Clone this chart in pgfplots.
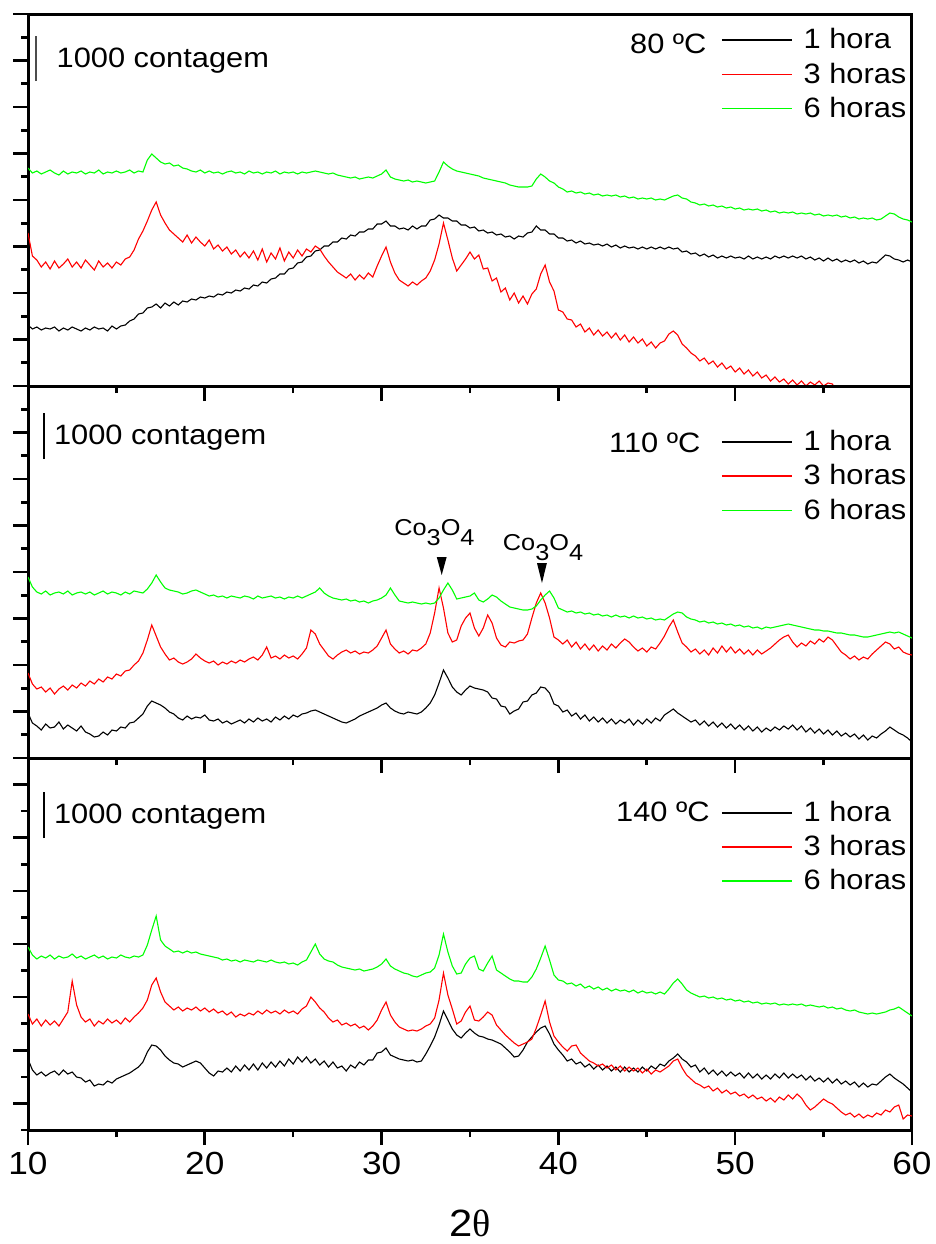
\documentclass[border=0pt]{standalone}
\usepackage{fontspec}
\setmainfont{Liberation Sans}[FakeStretch=1.1]
\newfontfamily\greekfont{Liberation Serif}
\usepackage{pgfplots}
\usepackage{pgfplotstable}
\pgfplotsset{compat=1.18}

% panel A: 80 C (y in px above panel bottom)
\pgfplotstableread{
x a1 a3 a6
10.00 61 153 218
10.25 57 130 213
10.50 59 126 215
10.75 56 119 212
11.00 58 124 214
11.25 57 117 216
11.50 59 125 213
11.75 55 118 211
12.00 58 122 215
12.25 56 127 212
12.50 59 119 214
12.75 57 124 213
13.00 55 118 215
13.25 58 126 212
13.50 56 121 214
13.75 59 116 213
14.00 57 125 216
14.25 58 119 212
14.50 55 123 214
14.75 60 118 213
15.00 57 124 215
15.25 60 121 213
15.50 61 127 214
15.75 65 129 216
16.00 67 136 213
16.25 72 147 215
16.50 73 155 214
16.75 78 165 226
17.00 79 176 232
17.25 82 184 228
17.50 78 171 224
17.75 83 163 222
18.00 80 156 223
18.25 84 152 220
18.50 81 148 221
18.75 85 144 218
19.00 84 151 217
19.25 87 143 215
19.50 86 149 214
19.75 89 144 216
20.00 88 140 213
20.25 90 146 215
20.50 89 137 213
20.75 92 141 214
21.00 91 135 212
21.25 94 139 214
21.50 93 132 215
21.75 96 136 213
22.00 95 129 214
22.25 98 134 212
22.50 97 128 215
22.75 101 135 213
23.00 100 126 214
23.25 104 137 212
23.50 103 124 214
23.75 107 133 213
24.00 108 127 215
24.25 112 138 212
24.50 112 125 214
24.75 117 134 213
25.00 118 128 214
25.25 123 136 212
25.50 124 130 214
25.75 129 137 213
26.00 130 134 214
26.25 135 140 215
26.50 136 137 214
26.75 140 130 213
27.00 140 124 212
27.25 144 119 213
27.50 144 114 211
27.75 148 111 210
28.00 147 108 209
28.25 151 112 208
28.50 150 106 209
28.75 154 111 207
29.00 154 107 208
29.25 157 113 209
29.50 157 109 208
29.75 162 120 210
30.00 162 130 212
30.25 165 139 216
30.50 160 124 209
30.75 160 113 207
31.00 157 106 206
31.25 158 103 205
31.50 156 100 206
31.75 160 104 204
32.00 157 101 205
32.25 160 105 204
32.50 160 108 203
32.75 166 115 204
33.00 167 126 205
33.25 171 142 214
33.50 168 163 224
33.75 168 146 220
34.00 165 128 217
34.25 165 115 215
34.50 161 121 214
34.75 161 127 213
35.00 158 134 212
35.25 159 127 211
35.50 155 131 210
35.75 156 117 208
36.00 153 118 207
36.25 154 105 206
36.50 151 108 205
36.75 152 94 204
37.00 149 98 203
37.25 150 86 201
37.50 147 93 200
37.75 150 83 199
38.00 149 90 199
38.25 153 82 199
38.50 154 92 200
38.75 160 97 207
39.00 156 112 212
39.25 156 121 209
39.50 152 104 205
39.75 152 95 203
40.00 148 76 199
40.25 148 74 197
40.50 145 67 194
40.75 146 66 195
41.00 143 59 193
41.25 145 62 194
41.50 142 54 192
41.75 143 58 193
42.00 141 51 191
42.25 142 56 192
42.50 140 50 190
42.75 142 54 191
43.00 139 48 190
43.25 141 53 191
43.50 138 46 189
43.75 140 51 190
44.00 138 44 188
44.25 139 49 189
44.50 137 43 187
44.75 139 47 188
45.00 137 40 187
45.25 139 44 188
45.50 137 38 186
45.75 139 43 187
46.00 137 45 186
46.25 139 52 188
46.50 137 55 190
46.75 138 51 191
47.00 134 42 188
47.25 135 38 187
47.50 132 33 184
47.75 133 30 183
48.00 130 25 181
48.25 132 28 182
48.50 129 22 180
48.75 131 25 181
49.00 128 19 179
49.25 130 23 180
49.50 128 17 178
49.75 130 20 179
50.00 128 14 177
50.25 129 18 178
50.50 127 12 176
50.75 130 16 177
51.00 127 10 176
51.25 129 14 177
51.50 127 8 175
51.75 129 11 176
52.00 127 5 174
52.25 130 9 175
52.50 128 4 173
52.75 130 7 174
53.00 128 2 173
53.25 130 6 174
53.50 128 1 172
53.75 130 5 173
54.00 127 0 172
54.25 129 4 173
54.50 126 1 171
54.75 128 5 172
55.00 125 0 170
55.25 128 3 171
55.50 125 2 170
55.75 127 -6 171
56.00 124 -8 169
56.25 126 -11 170
56.50 124 -10 168
56.75 126 -13 169
57.00 123 -14 167
57.25 125 -15 168
57.50 122 -17 167
57.75 124 -18 168
58.00 123 -19 166
58.25 127 -20 167
58.50 131 -21 170
58.75 130 -22 173
59.00 127 -23 172
59.25 126 -24 169
59.50 124 -25 167
59.75 126 -26 166
60.00 124 -27 164
}\tblA

% panel B: 110 C
\pgfplotstableread{
x b1 b3 b6
10.00 45 85 181
10.25 35 74 171
10.50 32 69 166
10.75 28 71 164
11.00 34 66 167
11.25 30 70 163
11.50 31 64 165
11.75 36 69 166
12.00 29 72 164
12.25 33 68 167
12.50 30 73 163
12.75 27 70 165
13.00 32 75 166
13.25 26 72 164
13.50 24 77 166
13.75 21 74 163
14.00 22 79 165
14.25 26 76 167
14.50 23 81 164
14.75 28 79 166
15.00 27 84 165
15.25 31 82 163
15.50 30 87 166
15.75 35 88 164
16.00 36 93 167
16.25 40 97 166
16.50 44 105 165
16.75 52 118 169
17.00 57 133 175
17.25 55 122 183
17.50 53 111 176
17.75 50 104 170
18.00 46 98 168
18.25 44 100 167
18.50 40 96 166
18.75 38 94 164
19.00 42 96 165
19.25 39 99 167
19.50 41 104 168
19.75 40 100 166
20.00 43 97 164
20.25 38 95 162
20.50 37 97 163
20.75 39 93 161
21.00 35 96 162
21.25 37 94 160
21.50 34 97 162
21.75 36 95 161
22.00 38 98 160
22.25 35 96 162
22.50 39 99 161
22.75 36 101 159
23.00 40 98 162
23.25 37 103 160
23.50 39 111 161
23.75 36 100 162
24.00 41 102 160
24.25 38 99 161
24.50 42 103 159
24.75 39 100 161
25.00 43 102 160
25.25 41 99 162
25.50 44 104 160
25.75 45 110 162
26.00 47 128 164
26.25 48 124 166
26.50 46 114 170
26.75 44 108 165
27.00 42 102 162
27.25 40 99 160
27.50 38 103 159
27.75 36 106 158
28.00 35 108 159
28.25 37 105 157
28.50 39 107 158
28.75 42 104 156
29.00 44 106 157
29.25 46 105 155
29.50 48 108 157
29.75 50 112 158
30.00 53 120 160
30.25 55 128 163
30.50 50 114 170
30.75 47 109 163
31.00 45 105 157
31.25 44 107 156
31.50 46 104 155
31.75 45 108 156
32.00 44 107 155
32.25 46 110 154
32.50 50 114 155
32.75 55 125 154
33.00 63 145 155
33.25 75 170 160
33.50 88 150 168
33.75 80 125 175
34.00 71 116 168
34.25 66 118 159
34.50 63 132 160
34.75 68 140 161
35.00 72 145 162
35.25 70 130 165
35.50 69 122 158
35.75 68 130 156
36.00 66 143 159
36.25 60 135 163
36.50 59 120 161
36.75 52 113 157
37.00 51 111 154
37.25 44 116 151
37.50 47 115 150
37.75 49 117 149
38.00 56 118 148
38.25 57 124 148
38.50 63 140 149
38.75 65 155 152
39.00 71 165 158
39.25 70 155 163
39.50 65 140 167
39.75 54 121 160
40.00 52 118 150
40.25 46 114 148
40.50 48 118 146
40.75 42 111 147
41.00 45 116 145
41.25 39 109 146
41.50 43 114 144
41.75 37 108 145
42.00 41 113 143
42.25 36 107 144
42.50 40 112 142
42.75 35 108 143
43.00 39 114 141
43.25 34 110 143
43.50 38 115 141
43.75 35 119 142
44.00 39 116 140
44.25 33 111 142
44.50 38 107 140
44.75 34 110 141
45.00 39 106 139
45.25 35 111 140
45.50 40 109 138
45.75 37 115 139
46.00 43 122 138
46.25 46 131 141
46.50 49 138 144
46.75 45 126 146
47.00 42 115 145
47.25 39 111 141
47.50 36 106 139
47.75 38 109 138
48.00 33 104 136
48.25 37 108 137
48.50 32 103 135
48.75 36 110 136
49.00 31 105 134
49.25 35 112 135
49.50 30 106 133
49.75 34 111 134
50.00 29 105 132
50.25 33 109 133
50.50 28 104 131
50.75 32 108 132
51.00 27 103 130
51.25 31 108 131
51.50 26 104 129
51.75 30 107 131
52.00 27 110 130
52.25 31 114 131
52.50 28 118 132
52.75 32 121 133
53.00 29 123 134
53.25 33 116 133
53.50 28 111 132
53.75 32 115 131
54.00 26 112 130
54.25 30 117 129
54.50 25 114 128
54.75 29 119 128
55.00 24 116 127
55.25 28 121 127
55.50 23 118 126
55.75 27 112 125
56.00 22 106 125
56.25 25 103 124
56.50 21 99 123
56.75 24 102 123
57.00 19 98 122
57.25 23 101 121
57.50 18 99 121
57.75 22 104 122
58.00 20 108 123
58.25 24 112 124
58.50 27 116 125
58.75 31 114 126
59.00 28 109 125
59.25 25 111 126
59.50 23 106 124
59.75 20 104 122
60.00 16 103 120
}\tblB

% panel C: 140 C
\pgfplotstableread{
x c1 c3 c6
10.00 71 116 183
10.25 60 106 175
10.50 55 111 171
10.75 58 104 174
11.00 54 110 172
11.25 57 105 175
11.50 59 109 171
11.75 55 104 174
12.00 60 111 172
12.25 56 118 173
12.50 58 149 176
12.75 53 125 172
13.00 52 113 174
13.25 48 108 171
13.50 50 111 173
13.75 44 104 175
14.00 46 109 172
14.25 45 106 174
14.50 49 111 171
14.75 47 107 173
15.00 51 110 172
15.25 53 106 175
15.50 55 112 173
15.75 57 108 172
16.00 60 113 174
16.25 63 117 173
16.50 68 122 175
16.75 78 130 185
17.00 85 145 200
17.25 84 152 214
17.50 80 138 190
17.75 74 128 184
18.00 70 124 181
18.25 67 120 178
18.50 66 123 179
18.75 63 119 177
19.00 65 122 179
19.25 67 120 177
19.50 69 123 178
19.75 67 119 176
20.00 62 122 175
20.25 57 118 174
20.50 54 121 173
20.75 59 117 172
21.00 58 119 170
21.25 62 115 171
21.50 58 118 169
21.75 64 113 170
22.00 59 116 168
22.25 65 114 170
22.50 60 117 169
22.75 66 115 168
23.00 60 119 170
23.25 67 116 169
23.50 62 120 168
23.75 68 117 170
24.00 63 119 168
24.25 69 116 167
24.50 64 120 168
24.75 71 117 166
25.00 66 119 167
25.25 73 116 165
25.50 68 121 168
25.75 73 124 170
26.00 67 133 178
26.25 71 128 186
26.50 65 122 176
26.75 69 118 171
27.00 63 112 169
27.25 68 108 168
27.50 62 110 165
27.75 64 105 163
28.00 59 107 162
28.25 65 104 161
28.50 62 106 160
28.75 68 102 161
29.00 65 104 159
29.25 70 100 160
29.50 70 104 161
29.75 77 110 163
30.00 78 120 166
30.25 82 128 171
30.50 75 115 164
30.75 73 108 161
31.00 71 103 159
31.25 70 101 157
31.50 69 99 156
31.75 70 100 154
32.00 68 99 153
32.25 69 101 155
32.50 76 104 157
32.75 84 106 158
33.00 93 112 162
33.25 105 130 175
33.50 119 157 196
33.75 110 135 178
34.00 101 121 164
34.25 95 106 156
34.50 92 109 157
34.75 97 118 166
35.00 101 124 172
35.25 97 110 174
35.50 94 109 161
35.75 93 113 159
36.00 91 118 167
36.25 90 115 174
36.50 88 105 160
36.75 86 100 157
37.00 82 95 154
37.25 78 91 151
37.50 73 87 149
37.75 74 84 149
38.00 80 86 148
38.25 88 88 148
38.50 93 91 153
38.75 98 102 161
39.00 102 115 172
39.25 104 129 184
39.50 96 108 170
39.75 86 94 155
40.00 80 88 150
40.25 75 83 149
40.50 69 79 146
40.75 71 84 147
41.00 66 85 144
41.25 68 77 146
41.50 63 73 142
41.75 66 69 144
42.00 61 67 141
42.25 65 64 143
42.50 60 66 140
42.75 64 62 142
43.00 59 65 139
43.25 63 60 141
43.50 58 64 139
43.75 63 59 140
44.00 58 63 138
44.25 62 59 140
44.50 58 62 137
44.75 63 57 139
45.00 59 61 137
45.25 64 56 138
45.50 61 60 136
45.75 66 58 138
46.00 64 61 136
46.25 69 64 141
46.50 72 69 147
46.75 76 71 151
47.00 71 62 146
47.25 68 55 140
47.50 63 51 137
47.75 65 47 135
48.00 58 45 133
48.25 62 42 134
48.50 56 44 132
48.75 60 39 133
49.00 55 42 131
49.25 59 37 132
49.50 54 40 130
49.75 58 36 131
50.00 54 38 129
50.25 57 34 130
50.50 52 36 128
50.75 57 32 129
51.00 52 35 127
51.25 56 31 128
51.50 51 33 126
51.75 55 29 127
52.00 51 32 126
52.25 56 28 127
52.50 52 33 125
52.75 57 30 126
53.00 52 35 125
53.25 56 31 126
53.50 52 36 125
53.75 55 32 126
54.00 50 25 124
54.25 54 20 125
54.50 49 23 124
54.75 52 27 123
55.00 48 31 124
55.25 52 28 122
55.50 47 26 123
55.75 51 22 121
56.00 46 18 122
56.25 49 15 120
56.50 45 17 119
56.75 48 13 120
57.00 43 16 118
57.25 47 12 117
57.50 43 15 116
57.75 46 13 117
58.00 45 17 116
58.25 49 15 117
58.50 53 20 118
58.75 56 18 120
59.00 52 23 121
59.25 49 25 123
59.50 46 11 120
59.75 42 15 117
60.00 38 14 114
}\tblC

\definecolor{xgreen}{RGB}{0,255,0}
\definecolor{xred}{RGB}{255,0,0}

\tikzset{lab/.style={font=\fontsize{14}{14}\selectfont, inner sep=0pt}}

\pgfplotsset{
  panel/.style={
    scale only axis, width=442pt, height=186pt,
    xmin=10, xmax=60, ymin=0, ymax=372,
    xtick={10,20,30,40,50,60}, minor xtick={15,25,35,45,55},
    ytick={0,46.5,93,139.5,186,232.5,279,325.5,372},
    minor ytick={23.25,69.75,116.25,162.75,209.25,255.75,302.25,348.75},
    yticklabel=\empty,
    xtick pos=bottom, ytick pos=left, tick align=outside,
    major tick length=7.5pt, minor tick length=3.5pt,
    every tick/.append style={black, line width=1.3pt},
    axis line style={line width=1.5pt},
    legend cell align=left,
    legend style={draw=none, fill=none, inner sep=0pt, outer sep=0pt,
      font=\fontsize{14}{14}\selectfont, row sep=1.5pt, column sep=3.5pt},
    legend image code/.code={\draw[#1, line width=0.8pt] (0pt,0pt) -- (35pt,0pt);},
    /pgf/number format/assume math mode=true,
  },
}

\begin{document}
\begin{tikzpicture}
\useasboundingbox (0,0) rectangle (468pt,-622pt);

\begin{axis}[panel, at={(14pt,-7pt)}, anchor=north west, xticklabel=\empty,
  legend style={at={(axis description cs:0.784,0.972)}, anchor=north west}]
\addplot[black, line width=0.55pt] table[x=x, y=a1] {\tblA};
\addplot[xred, line width=0.55pt] table[x=x, y=a3] {\tblA};
\addplot[xgreen, line width=0.55pt] table[x=x, y=a6] {\tblA};
\legend{1 hora, 3 horas, 6 horas}
\draw[black!70, line width=0.6pt] (axis cs:10.45,305) -- (axis cs:10.45,350);
\node[lab, anchor=base west] at (axis cs:11.6,319) {1000 contagem};
\node[lab, anchor=base east] at (axis description cs:0.768,0.8925) {80 ºC};
\end{axis}

\begin{axis}[panel, at={(14pt,-193pt)}, anchor=north west, xticklabel=\empty,
  legend style={at={(axis description cs:0.784,0.892)}, anchor=north west}]
\addplot[black, line width=0.55pt] table[x=x, y=b1] {\tblB};
\addplot[xred, line width=0.55pt] table[x=x, y=b3] {\tblB};
\addplot[xgreen, line width=0.55pt] table[x=x, y=b6] {\tblB};
\legend{1 hora, 3 horas, 6 horas}
\draw[black, line width=0.6pt] (axis cs:10.90,299) -- (axis cs:10.90,345);
\node[lab, anchor=base west] at (axis cs:11.45,314) {1000 contagem};
\node[lab, anchor=base east] at (axis description cs:0.761,0.8226) {110 ºC};
\node[font=\fontsize{11.5}{11.5}\selectfont, inner sep=0pt, anchor=base] at (axis cs:32.99,223) {Co\raisebox{-5pt}{3}O\raisebox{-5pt}{4}};
\node[font=\fontsize{11.5}{11.5}\selectfont, inner sep=0pt, anchor=base] at (axis cs:39.13,208) {Co\raisebox{-5pt}{3}O\raisebox{-5pt}{4}};
\fill[black] (axis cs:33.12,201) -- (axis cs:33.68,201) -- (axis cs:33.40,183) -- cycle;
\fill[black] (axis cs:38.79,195) -- (axis cs:39.35,195) -- (axis cs:39.07,175) -- cycle;
\end{axis}

\begin{axis}[panel, at={(14pt,-379pt)}, anchor=north west,
  ytick={26.57,79.71,132.86,186,239.14,292.29,345.43},
  minor ytick={0,53.14,106.29,159.43,212.57,265.71,318.86,372},
  xticklabel style={font=\fontsize{16}{16}\selectfont},
  xlabel={2{\greekfont θ}},
  xlabel style={font=\fontsize{19}{19}\selectfont, at={(axis description cs:0.5,-0.25)}, anchor=center},
  legend style={at={(axis description cs:0.784,0.895)}, anchor=north west}]
\addplot[black, line width=0.55pt] table[x=x, y=c1] {\tblC};
\addplot[xred, line width=0.55pt] table[x=x, y=c3] {\tblC};
\addplot[xgreen, line width=0.55pt] table[x=x, y=c6] {\tblC};
\legend{1 hora, 3 horas, 6 horas}
\draw[black, line width=0.6pt] (axis cs:10.90,292) -- (axis cs:10.90,338);
\node[lab, anchor=base west] at (axis cs:11.45,307) {1000 contagem};
\node[lab, anchor=base east] at (axis description cs:0.7715,0.829) {140 ºC};
\end{axis}
\end{tikzpicture}
\end{document}
